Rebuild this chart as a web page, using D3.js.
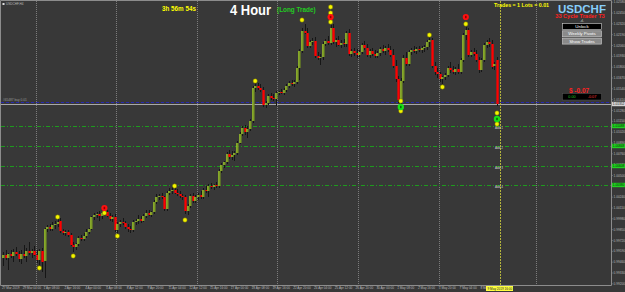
<!DOCTYPE html>
<html><head><meta charset="utf-8">
<script src="https://cdn.jsdelivr.net/npm/d3@7"></script>
<style>html,body{margin:0;padding:0;background:#383838;overflow:hidden}svg{display:block}</style>
</head><body><div id="chart"></div>
<script>
// ---- DATA (USDCHF H4) ----
const opens=[0.99504,0.99540,0.99504,0.99552,0.99528,0.99576,0.99552,0.99492,0.99552,0.99528,0.99588,0.99564,0.99588,0.99540,0.99480,0.99588,0.99468,0.99852,0.99876,0.99852,0.99900,0.99912,0.99948,0.99828,0.99804,0.99816,0.99780,0.99660,0.99636,0.99672,0.99744,0.99732,0.99768,0.99816,0.99852,0.99996,1.00020,1.00032,1.00008,1.00044,1.00056,1.00008,0.99972,0.99996,0.99840,0.99912,0.99936,0.99924,0.99876,0.99852,0.99840,0.99936,0.99948,0.99972,0.99948,1.00008,1.00044,1.00020,1.00056,1.00176,1.00236,1.00248,1.00236,1.00092,1.00284,1.00308,1.00320,1.00284,1.00272,1.00248,1.00236,1.00068,1.00128,1.00248,1.00188,1.00236,1.00260,1.00236,1.00320,1.00308,1.00368,1.00356,1.00380,1.00368,1.00548,1.00620,1.00656,1.00752,1.00716,1.00740,1.00764,1.00884,1.00992,1.01064,1.01016,1.01052,1.01148,1.01544,1.01568,1.01544,1.01520,1.01340,1.01364,1.01448,1.01424,1.01412,1.01484,1.01496,1.01484,1.01520,1.01568,1.01604,1.01592,1.01616,1.01784,1.01988,1.02228,1.02204,1.02048,1.02096,1.02108,1.01928,1.01904,1.01916,1.02072,1.02108,1.02084,1.02264,1.02096,1.02120,1.02060,1.02084,1.02072,1.02204,1.01952,1.01988,1.01964,1.01940,1.01976,1.02060,1.02024,1.01940,1.01988,1.01952,1.01928,1.01964,1.02012,1.01988,1.02024,1.02000,1.01940,1.01808,1.01652,1.01400,1.01628,1.01904,1.01832,1.01976,1.02000,1.01988,1.02012,1.02000,1.02024,1.02036,1.02096,1.02120,1.01808,1.01736,1.01712,1.01652,1.01676,1.01700,1.01784,1.01760,1.01736,1.01772,1.01736,1.01880,1.02180,1.02240,1.01940,1.01976,1.01952,1.01880,1.01760,1.01880,1.02060,1.02096,1.02072,1.01808,1.01880];
const highs=[0.99576,0.99600,0.99564,0.99600,0.99612,0.99636,0.99588,0.99600,0.99660,0.99624,0.99696,0.99612,0.99648,0.99600,0.99612,0.99624,0.99864,0.99900,0.99912,0.99936,0.99948,0.99972,0.99984,0.99852,0.99840,0.99840,0.99804,0.99696,0.99684,0.99768,0.99780,0.99804,0.99852,0.99864,1.00008,1.00044,1.00056,1.00068,1.00056,1.00092,1.00080,1.00044,1.00020,1.00032,0.99936,0.99960,0.99984,0.99948,0.99912,0.99888,0.99960,0.99972,1.00020,1.00008,1.00032,1.00080,1.00080,1.00068,1.00200,1.00272,1.00272,1.00284,1.00248,1.00308,1.00344,1.00356,1.00380,1.00332,1.00308,1.00272,1.00260,1.00152,1.00272,1.00284,1.00260,1.00284,1.00308,1.00344,1.00368,1.00392,1.00404,1.00392,1.00416,1.00572,1.00644,1.00668,1.00776,1.00800,1.00788,1.00788,1.00908,1.01016,1.01088,1.01100,1.01088,1.01172,1.01568,1.01616,1.01604,1.01592,1.01556,1.01388,1.01472,1.01484,1.01472,1.01508,1.01508,1.01532,1.01544,1.01592,1.01628,1.01640,1.01640,1.01808,1.02012,1.02264,1.02312,1.02264,1.02120,1.02144,1.02156,1.01976,1.01952,1.02096,1.02132,1.02168,1.02300,1.02312,1.02144,1.02168,1.02120,1.02132,1.02228,1.02252,1.02012,1.02024,1.02012,1.02000,1.02084,1.02108,1.02072,1.02012,1.02024,1.02000,1.01988,1.02036,1.02060,1.02048,1.02072,1.02048,1.02012,1.01880,1.01688,1.01664,1.01940,1.01976,1.02000,1.02024,1.02048,1.02036,1.02048,1.02048,1.02060,1.02120,1.02156,1.02144,1.01856,1.01784,1.01736,1.01688,1.01724,1.01808,1.01856,1.01808,1.01796,1.01832,1.01904,1.02204,1.02276,1.02264,1.02000,1.02024,1.02000,1.01916,1.01904,1.02084,1.02120,1.02144,1.02120,1.01856,1.01916];
const lows=[0.99408,0.99480,0.99360,0.99504,0.99456,0.99528,0.99456,0.99432,0.99504,0.99456,0.99540,0.99504,0.99528,0.99444,0.99408,0.99336,0.99264,0.99816,0.99828,0.99828,0.99852,0.99876,0.99804,0.99780,0.99768,0.99756,0.99648,0.99576,0.99600,0.99648,0.99708,0.99708,0.99744,0.99792,0.99840,0.99960,0.99984,0.99948,0.99972,1.00008,0.99996,0.99948,0.99936,0.99816,0.99792,0.99876,0.99900,0.99852,0.99816,0.99804,0.99816,0.99900,0.99912,0.99924,0.99936,0.99984,1.00008,0.99996,1.00032,1.00152,1.00200,1.00212,1.00068,1.00068,1.00260,1.00272,1.00272,1.00248,1.00224,1.00200,1.00032,1.00020,1.00104,1.00164,1.00164,1.00200,1.00212,1.00212,1.00284,1.00236,1.00332,1.00320,1.00344,1.00344,1.00524,1.00584,1.00632,1.00692,1.00680,1.00668,1.00740,1.00872,1.00968,1.00980,1.00944,1.01028,1.01124,1.01496,1.01520,1.01496,1.01316,1.01304,1.01340,1.01400,1.01388,1.01328,1.01460,1.01472,1.01460,1.01496,1.01544,1.01568,1.01556,1.01592,1.01640,1.01964,1.02192,1.02024,1.02024,1.02060,1.01904,1.01880,1.01820,1.01880,1.02048,1.02060,1.02060,1.02072,1.02036,1.02048,1.02024,1.02036,1.02036,1.01928,1.01916,1.01928,1.01904,1.01916,1.01952,1.02000,1.01916,1.01904,1.01928,1.01904,1.01904,1.01928,1.01964,1.01940,1.01976,1.01916,1.01784,1.01616,1.01364,1.01352,1.01604,1.01808,1.01808,1.01940,1.01964,1.01952,1.01976,1.01964,1.01976,1.02000,1.02036,1.01784,1.01700,1.01664,1.01616,1.01592,1.01640,1.01676,1.01724,1.01712,1.01700,1.01712,1.01712,1.01856,1.02120,1.01916,1.01916,1.01928,1.01856,1.01724,1.01736,1.01856,1.02024,1.02036,1.01772,1.01760,1.01328];
const closes=[0.99540,0.99504,0.99552,0.99528,0.99576,0.99552,0.99492,0.99552,0.99528,0.99588,0.99564,0.99588,0.99540,0.99480,0.99588,0.99456,0.99852,0.99876,0.99852,0.99900,0.99912,0.99936,0.99828,0.99804,0.99816,0.99780,0.99660,0.99636,0.99672,0.99744,0.99732,0.99768,0.99816,0.99852,0.99996,1.00020,1.00032,1.00008,1.00044,1.00068,1.00008,0.99972,0.99996,0.99840,0.99912,0.99936,0.99924,0.99876,0.99852,0.99840,0.99936,0.99948,0.99972,0.99948,1.00008,1.00044,1.00020,1.00056,1.00176,1.00236,1.00248,1.00236,1.00092,1.00284,1.00308,1.00320,1.00284,1.00272,1.00248,1.00236,1.00068,1.00128,1.00248,1.00188,1.00236,1.00260,1.00236,1.00320,1.00308,1.00368,1.00356,1.00380,1.00368,1.00548,1.00620,1.00656,1.00752,1.00716,1.00740,1.00764,1.00884,1.00992,1.01064,1.01016,1.01052,1.01148,1.01544,1.01568,1.01544,1.01520,1.01340,1.01364,1.01448,1.01424,1.01412,1.01484,1.01496,1.01484,1.01520,1.01568,1.01604,1.01592,1.01616,1.01784,1.01988,1.02228,1.02204,1.02048,1.02096,1.02108,1.01928,1.01904,1.01916,1.02072,1.02108,1.02084,1.02264,1.02096,1.02120,1.02060,1.02084,1.02072,1.02204,1.01952,1.01988,1.01964,1.01940,1.01976,1.02060,1.02024,1.01940,1.01988,1.01952,1.01928,1.01964,1.02012,1.01988,1.02024,1.02000,1.01940,1.01808,1.01652,1.01400,1.01628,1.01904,1.01832,1.01976,1.02000,1.01988,1.02012,1.02000,1.02024,1.02036,1.02096,1.02120,1.01808,1.01736,1.01712,1.01652,1.01676,1.01700,1.01784,1.01760,1.01736,1.01772,1.01736,1.01880,1.02180,1.02240,1.01940,1.01976,1.01952,1.01880,1.01760,1.01880,1.02060,1.02096,1.02072,1.01796,1.01832,1.01352];

const timeLabels=["27 Mar 2019","29 Mar 04:00","1 Apr 08:00","2 Apr 16:00","4 Apr 00:00","5 Apr 08:00","8 Apr 12:00","9 Apr 20:00","11 Apr 04:00","12 Apr 12:00","15 Apr 16:00","17 Apr 00:00","18 Apr 08:00","19 Apr 16:00","22 Apr 20:00","24 Apr 04:00","25 Apr 12:00","26 Apr 20:00","30 Apr 00:00","1 May 08:00","2 May 16:00","5 May 20:00","7 May 04:00","8 May 12:00"];
const labelEvery=8;
const priceTicks=[0.99200,0.99330,0.99460,0.99590,0.99720,0.99850,0.99980,1.00110,1.00240,1.00370,1.00500,1.00630,1.00760,1.00890,1.01020,1.01150,1.01280,1.01410,1.01540,1.01670,1.01800,1.01930,1.02060,1.02190,1.02320,1.02450,1.02580];
const weekSeparators=[12.5,43.5,74.5,105.5,136.5,167.5,205.1];
const currentBar=191;
const currentTimeLabel="9 May 2019 16:00";

// signal markers: [bar index, price]
const yellowDots=[[14,0.99384],[21,0.99996],[27,0.99528],[39,1.00044],[44,0.99768],[66,1.00368],[70,0.99960],[97,1.01628],[115,1.02360],[126,1.02516],[126,1.02444],[126,1.02336],[153,1.01388],[153,1.01268],[164,1.02180],[169,1.01556],[178,1.02312],[190,1.01244],[190,1.01112]];
const redDots=[[39,1.00104],[126,1.02396],[178,1.02396]];
const greenDots=[[153,1.01316],[190,1.01172]];

const tradeEntry=1.01376;
const tradeLabel="#65487 buy 0.01";
const targetLevels=[1.01088,1.00848,1.00608,1.00380];
const targetNames=["Add 1","Add 2","Add 3","Add 4"];

// ---- DRAW ----
const W=625,H=292,plotR=611,plotB=285;
const FONT="'Liberation Sans',Arial,sans-serif";
const svg=d3.select("#chart").append("svg").attr("width",W).attr("height",H).style("font-family",FONT);
svg.append("rect").attr("width",W).attr("height",H).attr("fill","#383838");

const n=closes.length;
const x=d3.scaleLinear().domain([0,n-1]).range([3,497]);
const y=d3.scaleLinear().domain([0.99192,1.02600]).range([284,0]);
const px=v=>Math.round(v)+0.5;

// frame
svg.append("path").attr("d",`M0.5,${plotB+0.5}V0.5H${plotR+0.5}V${plotB+0.5}H0.5`).attr("fill","none").attr("stroke","#8c8c8c").attr("stroke-width",1);

// week separators
svg.append("g").selectAll("line").data(weekSeparators).join("line")
  .attr("x1",d=>px(x(d))).attr("x2",d=>px(x(d))).attr("y1",1).attr("y2",plotB)
  .attr("stroke","#7c7c7c").attr("stroke-dasharray","1,1");

// target lines
svg.append("g").selectAll("line").data(targetLevels).join("line")
  .attr("x1",1).attr("x2",plotR).attr("y1",d=>px(y(d))).attr("y2",d=>px(y(d)))
  .attr("stroke","#1e9a1e").attr("stroke-dasharray","4,2,1,2");

// bid line + trade line
const last=closes[n-1];
svg.append("line").attr("x1",1).attr("x2",plotR).attr("y1",px(y(last))).attr("y2",px(y(last))).attr("stroke","#a8a8a8");
svg.append("line").attr("x1",1).attr("x2",plotR).attr("y1",px(y(tradeEntry))).attr("y2",px(y(tradeEntry))).attr("stroke","#2828b0").attr("stroke-dasharray","3,2");
svg.append("text").attr("x",3).attr("y",y(tradeEntry)-1.5).attr("font-size",3.2).attr("fill","#9a9a9a").text(tradeLabel);

// current time line
svg.append("line").attr("x1",px(x(currentBar))).attr("x2",px(x(currentBar))).attr("y1",1).attr("y2",plotB)
  .attr("stroke","#b4b43c").attr("stroke-dasharray","2,1");

// candles
const idx=d3.range(n);
const cg=svg.append("g");
cg.selectAll("line").data(idx).join("line")
  .attr("x1",i=>px(x(i))).attr("x2",i=>px(x(i)))
  .attr("y1",i=>y(highs[i])).attr("y2",i=>y(lows[i])).attr("stroke","#161616").attr("stroke-width",1);
const bodyTop=i=>y(Math.max(opens[i],closes[i]));
const bodyH=i=>Math.max(1,Math.abs(y(opens[i])-y(closes[i])));
cg.selectAll("rect.b").data(idx).join("rect").attr("class","b")
  .attr("x",i=>Math.round(x(i))-0.6).attr("width",2.3)
  .attr("y",bodyTop).attr("height",bodyH)
  .attr("fill",i=>closes[i]>=opens[i]?"#6a8424":"#ff0000");
cg.selectAll("rect.e").data(idx.filter(i=>closes[i]>=opens[i])).join("rect").attr("class","e")
  .attr("x",i=>Math.round(x(i))-0.6).attr("width",0.9)
  .attr("y",bodyTop).attr("height",bodyH).attr("fill","#a8d42c");

// target labels on chart
svg.append("g").selectAll("text").data(targetLevels).join("text")
  .attr("x",495).attr("y",d=>y(d)+2.8).attr("font-size",3).attr("fill","#d0d0d0").text((d,i)=>targetNames[i]);

// markers
const mg=svg.append("g");
mg.selectAll("circle.y").data(yellowDots).join("circle").attr("class","y")
  .attr("cx",d=>x(d[0])).attr("cy",d=>y(d[1])).attr("r",2.2).attr("fill","#f4f400").attr("stroke","#6a6a00").attr("stroke-width",0.5);
mg.selectAll("circle.r").data(redDots).join("circle").attr("class","r")
  .attr("cx",d=>x(d[0])).attr("cy",d=>y(d[1])).attr("r",3.1).attr("fill","#ff1010");
mg.selectAll("circle.g").data(greenDots).join("circle").attr("class","g")
  .attr("cx",d=>x(d[0])).attr("cy",d=>y(d[1])).attr("r",3.2).attr("fill","#18e018");
mg.selectAll("rect.rm").data(redDots).join("rect").attr("class","rm")
  .attr("x",d=>x(d[0])-0.8).attr("y",d=>y(d[1])-1.2).attr("width",1.6).attr("height",2.4).attr("fill","#900000");
mg.selectAll("rect.gm").data(greenDots).join("rect").attr("class","gm")
  .attr("x",d=>x(d[0])-0.8).attr("y",d=>y(d[1])-1.2).attr("width",1.6).attr("height",2.4).attr("fill","#087008");

// price axis
const ya=svg.append("g").attr("transform",`translate(${plotR},0)`)
  .call(d3.axisRight(y).tickValues(priceTicks).tickFormat(d3.format(".5f")).tickSize(1.5).tickPadding(1));
ya.select(".domain").remove();
ya.selectAll("line").attr("stroke","#8c8c8c");
ya.selectAll("text").attr("font-size",3.2).attr("fill","#b8b8b8").attr("font-family",FONT);

// highlighted price labels
function priceTag(p,bg,fg){
  const g=svg.append("g");
  g.append("rect").attr("x",plotR+1).attr("y",y(p)-2.2).attr("width",13).attr("height",4.4).attr("fill",bg);
  g.append("text").attr("x",plotR+1.8).attr("y",y(p)+1.2).attr("font-size",3.2).attr("fill",fg).text(d3.format(".5f")(p));
}
targetLevels.forEach(p=>priceTag(p,"#22d022","#003000"));
priceTag(last,"#d4d4d4","#202020");

// time axis
const xa=svg.append("g").attr("transform",`translate(0,${plotB})`)
  .call(d3.axisBottom(x).tickValues(d3.range(0,n,labelEvery)).tickFormat(i=>timeLabels[i/labelEvery]).tickSize(1.5).tickPadding(0.3));
xa.select(".domain").remove();
xa.selectAll("line").attr("stroke","#8c8c8c");
xa.selectAll("text").attr("font-size",3.1).attr("fill","#b8b8b8").attr("text-anchor","start").attr("dx",-1.5)
  .attr("font-family",FONT);
svg.append("rect").attr("x",486).attr("y",286).attr("width",27).attr("height",5).attr("fill","#ffff40");
svg.append("text").attr("x",487.5).attr("y",289.8).attr("font-size",3.1).attr("fill","#202020").text(currentTimeLabel);

// texts
svg.append("rect").attr("x",2.5).attr("y",3).attr("width",2).attr("height",2).attr("fill","#dddddd");
svg.append("text").attr("x",6).attr("y",5.3).attr("font-size",3.1).attr("fill","#b8b8b8").text("USDCHF,H4");
svg.append("text").attr("x",162).attr("y",11).attr("font-size",6.3).attr("font-weight","bold").attr("fill","#ffff00").text("3h 56m 54s");
svg.append("text").attr("x",230).attr("y",14.5).attr("font-size",14.5).attr("font-weight","bold").attr("fill","#ffffff")
  .attr("textLength",41).attr("lengthAdjust","spacingAndGlyphs").text("4 Hour");
svg.append("text").attr("x",277).attr("y",12).attr("font-size",6.4).attr("font-weight","bold").attr("fill","#22cc22").text("(Long Trade)");
svg.append("text").attr("x",494).attr("y",7.2).attr("font-size",5.3).attr("font-weight","bold").attr("fill","#ffff00").text("Trades = 1  Lots = 0.01");
svg.append("text").attr("x",582).attr("y",12.5).attr("text-anchor","middle").attr("font-size",11.5).attr("font-weight","bold").attr("fill","#87cefa").text("USDCHF");
svg.append("text").attr("x",580).attr("y",18).attr("text-anchor","middle").attr("font-size",5.6).attr("font-weight","bold").attr("fill","#ff2020").text("33 Cycle Trader T3");
svg.append("text").attr("x",582).attr("y",21.8).attr("text-anchor","middle").attr("font-size",4).attr("fill","#dddddd").text(".ıl.");
const buttons=[["Unlock","#000000","#ffffff"],["Weekly Pivots","#8a8a8a","#ffffff"],["Show Trades","#8a8a8a","#ffffff"]];
buttons.forEach((b,k)=>{
  const by=23+k*7.3;
  svg.append("rect").attr("x",562.5).attr("y",by+0.5).attr("width",39).attr("height",6).attr("fill",b[1]).attr("stroke","#d0d0d0").attr("stroke-width",0.6);
  svg.append("text").attr("x",582).attr("y",by+5).attr("text-anchor","middle").attr("font-size",4.4).attr("fill",b[2]).text(b[0]);
});
svg.append("text").attr("x",579).attr("y",92.5).attr("text-anchor","middle").attr("font-size",6.5).attr("font-weight","bold").attr("fill","#ff2020").text("$  -0.07");
svg.append("rect").attr("x",562.5).attr("y",93.5).attr("width",39).attr("height",6.5).attr("fill","#000").attr("stroke","#555").attr("stroke-width",0.5);
svg.append("text").attr("x",572).attr("y",98.3).attr("text-anchor","middle").attr("font-size",3.8).attr("fill","#20c020").text("0.00");
svg.append("text").attr("x",592).attr("y",98.3).attr("text-anchor","middle").attr("font-size",3.8).attr("fill","#ff3030").text("-0.07");
</script></body></html>
